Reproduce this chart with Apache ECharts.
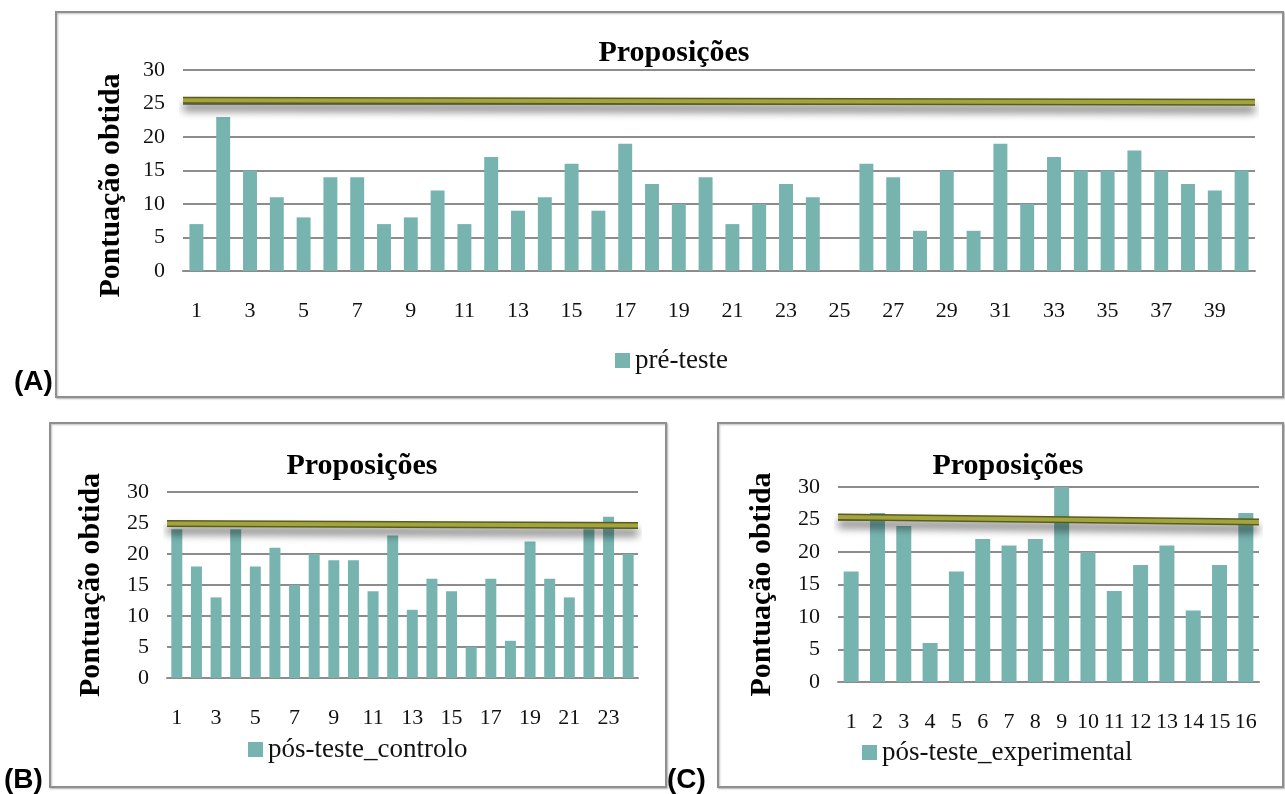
<!DOCTYPE html>
<html>
<head>
<meta charset="utf-8">
<script src="https://cdn.jsdelivr.net/npm/echarts@6/dist/echarts.min.js"></script>
<style>
  html, body { margin: 0; padding: 0; background: #fff; }
  #chart { width: 1285px; height: 794px; }
</style>
</head>
<body>
<div id="chart"></div>
<script>
// categories
const catsA = ['1','2','3','4','5','6','7','8','9','10','11','12','13','14','15','16','17','18','19','20',
               '21','22','23','24','25','26','27','28','29','30','31','32','33','34','35','36','37','38','39','40'];
const catsB = ['1','2','3','4','5','6','7','8','9','10','11','12','13','14','15','16','17','18','19','20','21','22','23','24'];
const catsC = ['1','2','3','4','5','6','7','8','9','10','11','12','13','14','15','16'];

// scores
const preTeste = [7,23,15,11,8,14,14,7,8,12,7,17,9,11,16,9,19,13,10,14,
                  7,10,13,11,null,16,14,6,15,6,19,10,17,15,15,18,15,13,12,15];
const posControlo = [24,18,13,24,18,21,15,20,19,19,14,23,11,16,14,5,16,6,22,16,13,24,26,20];
const posExperimental = [17,26,24,6,17,22,21,22,30,20,14,18,21,11,18,26];

// reference line (start, end) for each panel
const refA = [25.5, 25.2];
const refB = [24.9, 24.6];
const refC = [25.4, 24.6];

const yTicks = { min: 0, max: 30, interval: 5 };

const barColor = '#77b4af';
const gridGrey = '#8c8c8c';
const serif = '"Liberation Serif", "DejaVu Serif", serif';

const chart = echarts.init(document.getElementById('chart'));

function catAxis(gi, cats, every) {
    return {
        type: 'category', gridIndex: gi, data: cats,
        axisLine: { lineStyle: { color: gridGrey, width: 2 } },
        axisTick: { show: false },
        axisLabel: { interval: every, margin: 29, color: '#111', fontFamily: serif, fontSize: 22 }
    };
}
function hiddenAxis(gi) {
    return { type: 'value', gridIndex: gi, min: 0, max: 1, show: false };
}
function valAxis(gi, gap, pad) {
    return {
        type: 'value', gridIndex: gi, min: yTicks.min, max: yTicks.max, interval: yTicks.interval,
        name: 'Pontuação obtida', nameLocation: 'middle', nameGap: gap,
        nameTextStyle: { fontFamily: serif, fontWeight: 'bold', fontSize: 30, color: '#000', padding: pad },
        axisLine: { show: false }, axisTick: { show: false },
        axisLabel: { margin: 18, color: '#111', fontFamily: serif, fontSize: 22 },
        splitLine: { lineStyle: { color: gridGrey, width: 2 } }
    };
}
function bars(name, xi, yi, data, gap) {
    return {
        name: name, type: 'bar', xAxisIndex: xi, yAxisIndex: yi, data: data,
        barCategoryGap: gap, itemStyle: { color: barColor }, z: 2
    };
}
function refLine(xi, yi, v) {
    const d = [[0, v[0]], [1, v[1]]];
    return [
        { type: 'line', xAxisIndex: xi, yAxisIndex: yi, data: d, symbol: 'none', silent: true, z: 5,
          lineStyle: { color: '#5a5b1e', width: 7, shadowColor: 'rgba(0,0,0,0.55)', shadowBlur: 9, shadowOffsetY: 7 } },
        { type: 'line', xAxisIndex: xi, yAxisIndex: yi, data: d, symbol: 'none', silent: true, z: 6,
          lineStyle: { color: '#a2a53d', width: 4 } }
    ];
}
function title(text, x, y) {
    return { text: text, left: x, top: y, textAlign: 'center',
             textStyle: { fontFamily: serif, fontWeight: 'bold', fontSize: 30, color: '#000' } };
}
function legend(name, x, y) {
    return { data: [name], left: x, top: y, icon: 'rect', itemWidth: 15, itemHeight: 15, itemGap: 6,
             textStyle: { fontFamily: serif, fontSize: 27, color: '#111' } };
}
function box(x, y, w, h) {
    return { type: 'rect', shape: { x: x, y: y, width: w, height: h }, z: -1,
             style: { fill: '#fff', stroke: '#8f8f8f', lineWidth: 2,
                      shadowColor: 'rgba(0,0,0,0.25)', shadowBlur: 2, shadowOffsetX: 1, shadowOffsetY: 1 } };
}
function tag(text, x, y) {
    return { type: 'text', x: x, y: y, z: 10,
             style: { text: text, font: 'bold 28px "Liberation Sans", Arial, sans-serif', fill: '#000' } };
}

const option = {
    animation: false,
    title: [
        title('Proposições', 669, 33),
        title('Proposições', 357, 446),
        title('Proposições', 1003, 446)
    ],
    legend: [
        legend('pré-teste', 610, 342),
        legend('pós-teste_controlo', 243, 731),
        legend('pós-teste_experimental', 857, 734)
    ],
    grid: [
        { left: 183, right: 30, top: 70, bottom: 523 },
        { left: 167, right: 647, top: 492, bottom: 116 },
        { left: 838, right: 26, top: 487, bottom: 112 }
    ],
    xAxis: [
        catAxis(0, catsA, 1), hiddenAxis(0),
        catAxis(1, catsB, 1), hiddenAxis(1),
        catAxis(2, catsC, 0), hiddenAxis(2)
    ],
    yAxis: [valAxis(0, 57, [0, 30, 0, 0]), valAxis(1, 61, 0), valAxis(2, 61, 0)],
    series: [
        bars('pré-teste', 0, 0, preTeste, '48%'),
        bars('pós-teste_controlo', 2, 1, posControlo, '44%'),
        bars('pós-teste_experimental', 4, 2, posExperimental, '43%')
    ].concat(refLine(1, 0, refA), refLine(3, 1, refB), refLine(5, 2, refC)),
    graphic: [
        box(56, 12, 1227, 385),
        box(50, 423, 616, 364),
        box(718, 423, 565, 364),
        tag('(A)', 14, 368),
        tag('(B)', 4, 766),
        tag('(C)', 667, 766)
    ]
};
chart.setOption(option);
</script>
</body>
</html>
